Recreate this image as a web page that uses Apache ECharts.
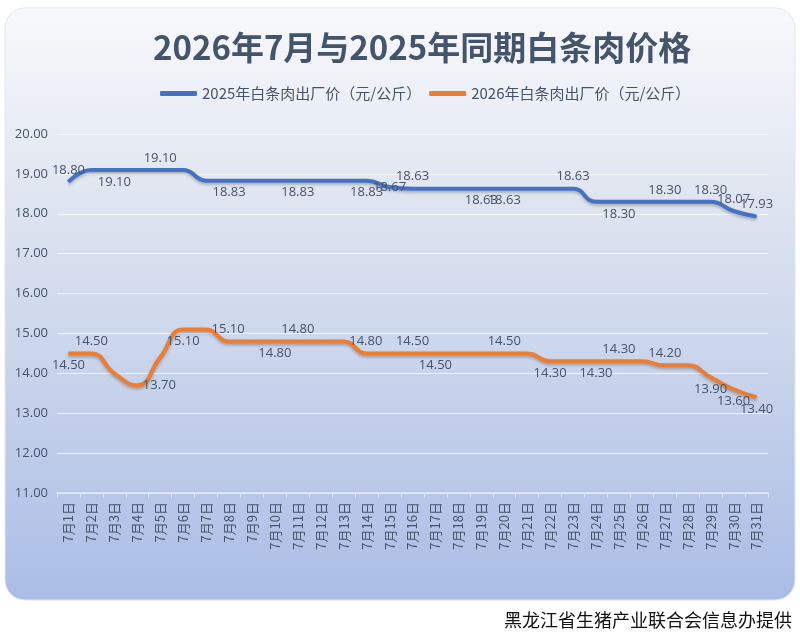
<!DOCTYPE html>
<html>
<head>
<meta charset="utf-8">
<script src="https://cdn.jsdelivr.net/npm/echarts@6/dist/echarts.min.js"></script>
<style>
  html, body { margin: 0; padding: 0; background: #ffffff; }
  #main { width: 800px; height: 636px; }
</style>
</head>
<body>
<div id="main"></div>
<script>
// days of July
var days = []
for (var d = 1; d <= 31; d++) days.push('7月' + d + '日')

var price2025 = [18.80, 19.10, 19.10, 19.10, 19.10, 19.10, 18.83, 18.83, 18.83, 18.83,
    18.83, 18.83, 18.83, 18.83, 18.67, 18.63, 18.63, 18.63, 18.63, 18.63,
    18.63, 18.63, 18.63, 18.30, 18.30, 18.30, 18.30, 18.30, 18.30, 18.07, 17.93]
var price2026 = [14.50, 14.50, 14.00, 13.70, 14.40, 15.10, 15.10, 14.80, 14.80, 14.80,
    14.80, 14.80, 14.80, 14.50, 14.50, 14.50, 14.50, 14.50, 14.50, 14.50,
    14.50, 14.30, 14.30, 14.30, 14.30, 14.30, 14.20, 14.20, 13.90, 13.60, 13.40]

var seriesNames = ['2025年白条肉出厂价（元/公斤）', '2026年白条肉出厂价（元/公斤）']

// which points carry a value label, and where: index -> [position, dx, dy]
var blueLabels = {
    0: ['top', 12, 0], 2: ['bottom', 2, 2], 4: ['top', 2, 0], 7: ['bottom', -4, 0],
    10: ['bottom', -11, 0], 13: ['bottom', -15, 0], 14: ['inside', 4, 0], 15: ['top', 15, -3],
    18: ['bottom', -1, 3], 19: ['bottom', 4, -4], 22: ['top', -11, -4], 24: ['bottom', 1, 0],
    26: ['top', -10, 1], 28: ['top', 0, -11], 29: ['top', -2, -10], 30: ['top', 0, -11]
}
var orangeLabels = {
    0: ['bottom', 0, -2], 1: ['top', 4, -6], 3: ['right', 0, -10], 5: ['bottom', -15, 6],
    6: ['right', 0, 4], 9: ['bottom', 17, 2], 10: ['top', 4, -4], 12: ['right', 0, -6],
    15: ['top', 8, 6], 16: ['bottom', 2, 5], 19: ['top', -2, 1], 21: ['bottom', -17, 2],
    23: ['bottom', -11, 1], 24: ['top', -7, 6], 26: ['top', -3, 0], 28: ['bottom', 0, 11],
    29: ['bottom', 0, 11], 30: ['bottom', 3, 12]
}

function build_points(values, plan) {
    return values.map(function (v, i) {
        var p = plan[i]
        if (!p) return { value: v, label: { show: false } }
        return {
            value: v,
            label: { show: true, position: p[0], offset: [p[1], p[2]] }
        }
    })
}

function make_line(name, values, plan, color) {
    return {
        name: name,
        type: 'line',
        data: build_points(values, plan),
        smooth: 0.5,
        symbol: 'circle',
        symbolSize: 1,
        showSymbol: true,
        itemStyle: { color: color },
        lineStyle: {
            width: 4,
            color: color,
            shadowColor: 'rgba(0,0,0,0.25)',
            shadowBlur: 3,
            shadowOffsetY: 2
        },
        label: {
            color: '#44546a',
            fontSize: 13,
            fontFamily: 'Open Sans',
            formatter: function (p) { return p.value.toFixed(2) }
        },
        labelLayout: { hideOverlap: false },
        emphasis: { disabled: true }
    }
}

var chart = echarts.init(document.getElementById('main'))
var options = {
    animation: false,
    graphic: [
        {
            type: 'rect',
            z: -10,
            shape: { x: 5, y: 8, width: 790, height: 592, r: 20 },
            style: {
                fill: new echarts.graphic.LinearGradient(0, 0, 0, 1, [
                    { offset: 0, color: '#f8f9fc' },
                    { offset: 0.35, color: '#dde3ef' },
                    { offset: 1, color: '#abbde6' }
                ]),
                stroke: '#e3e6ec',
                lineWidth: 1
            }
        },
        {
            type: 'text',
            right: 8,
            top: 611,
            style: {
                text: '黑龙江省生猪产业联合会信息办提供',
                fill: '#111111',
                font: '18px "Noto Sans CJK SC"'
            }
        }
    ],
    title: {
        text: '2026年7月与2025年同期白条肉价格',
        left: 148,
        top: 26,
        textStyle: {
            color: '#44546a',
            fontSize: 33,
            fontWeight: 'bold',
            fontFamily: 'Noto Sans CJK SC'
        }
    },
    legend: {
        top: 81,
        left: 155,
        itemWidth: 37,
        itemHeight: 5,
        itemGap: 8,
        icon: 'roundRect',
        data: seriesNames,
        textStyle: { color: '#44546a', fontSize: 15, fontFamily: 'Noto Sans CJK SC' }
    },
    grid: { left: 57, right: 32, top: 134, bottom: 143 },
    xAxis: {
        type: 'category',
        data: days,
        boundaryGap: true,
        axisLine: { lineStyle: { color: '#e4e8f0', width: 1.5 } },
        axisTick: { show: true, lineStyle: { color: '#e4e8f0' }, length: 5 },
        axisLabel: {
            interval: 0,
            rotate: 90,
            color: '#44546a',
            fontSize: 13,
            margin: 9,
            fontFamily: 'Noto Sans CJK SC'
        }
    },
    yAxis: {
        type: 'value',
        min: 11,
        max: 20,
        interval: 1,
        axisLine: { show: false },
        axisTick: { show: false },
        splitLine: { lineStyle: { color: 'rgba(255,255,255,0.75)', width: 1.2 } },
        axisLabel: {
            color: '#44546a',
            fontSize: 13,
            margin: 9,
            fontFamily: 'Open Sans',
            formatter: function (v) { return v.toFixed(2) }
        }
    },
    series: [
        make_line(seriesNames[0], price2025, blueLabels, '#4472c4'),
        make_line(seriesNames[1], price2026, orangeLabels, '#ed7d31')
    ]
}
chart.setOption(options)
window.addEventListener('resize', function () { chart.resize() }, false)
</script>
</body>
</html>
